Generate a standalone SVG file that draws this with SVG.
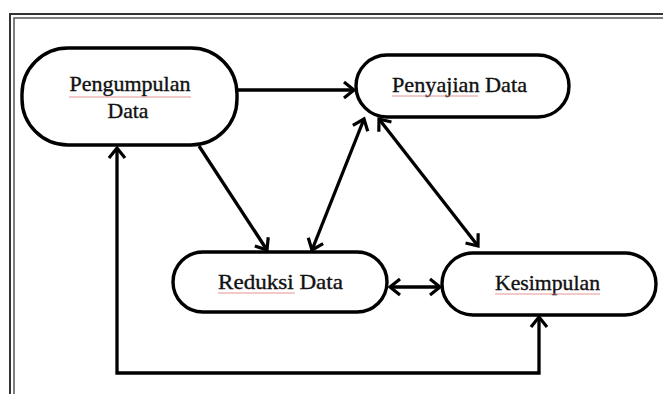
<svg xmlns="http://www.w3.org/2000/svg" width="663" height="394" viewBox="0 0 663 394">
<style>
.node{fill:#fff;stroke:#000;stroke-width:3.4}
.lbl{font-family:"Liberation Serif","Times New Roman",serif;font-size:21px;fill:#111;stroke:#111;stroke-width:0.35;text-anchor:middle}
.con{fill:none;stroke:#000;stroke-width:3.3}
.sq{stroke:#e07a7a;stroke-width:1;opacity:0.8}
</style>
<defs>
<marker id="ah" markerUnits="userSpaceOnUse" viewBox="-2 -11 15 22" markerWidth="15" markerHeight="22" refX="10" refY="0" orient="auto-start-reverse">
<path d="M0,-8 L10,0 L0,8" fill="none" stroke="#000" stroke-width="3.2" stroke-linejoin="miter"/>
</marker>
</defs>
<rect width="663" height="394" fill="#fff"/>
<g id="frame">
<rect x="10" y="14" width="720" height="420" fill="none" stroke="#333" stroke-width="2"/>
<rect x="14" y="18" width="712" height="412" fill="none" stroke="#555" stroke-width="1.5"/>
</g>
<g id="connectors">
<path class="con" d="M237,90 L354,90" marker-end="url(#ah)"/>
<path class="con" d="M199,146 L267,250" marker-end="url(#ah)"/>
<path class="con" d="M312,250 L364,119" marker-start="url(#ah)" marker-end="url(#ah)"/>
<path class="con" d="M379,119 L478,246" marker-start="url(#ah)" marker-end="url(#ah)"/>
<path class="con" d="M390,287 L440,287" marker-start="url(#ah)" marker-end="url(#ah)"/>
<path class="con" d="M539,317 L539,373 L117,373 L117,148" marker-start="url(#ah)" marker-end="url(#ah)"/>
</g>
<g id="pengumpulan">
<rect class="node" x="22" y="48" width="215" height="97" rx="46" ry="46"/>
<text class="lbl" x="130" y="91" textLength="121" lengthAdjust="spacingAndGlyphs">Pengumpulan</text>
<text class="lbl" x="128" y="118" textLength="41" lengthAdjust="spacingAndGlyphs">Data</text>
<line class="sq" x1="69" y1="97" x2="191" y2="97"/>
</g>
<g id="penyajian">
<rect class="node" x="356" y="55" width="213" height="62" rx="31" ry="31"/>
<text class="lbl" x="459.5" y="92" textLength="135" lengthAdjust="spacingAndGlyphs">Penyajian Data</text>
<line class="sq" x1="392" y1="96" x2="478" y2="96"/>
</g>
<g id="reduksi">
<rect class="node" x="173" y="252" width="214" height="60" rx="30" ry="30"/>
<text class="lbl" x="280.5" y="289" textLength="125" lengthAdjust="spacingAndGlyphs">Reduksi Data</text>
<line class="sq" x1="218" y1="293" x2="295" y2="293"/>
</g>
<g id="kesimpulan">
<rect class="node" x="442" y="253" width="214" height="62" rx="31" ry="31"/>
<text class="lbl" x="547.5" y="290" textLength="105" lengthAdjust="spacingAndGlyphs">Kesimpulan</text>
<line class="sq" x1="495" y1="294" x2="600" y2="294"/>
</g>
</svg>
